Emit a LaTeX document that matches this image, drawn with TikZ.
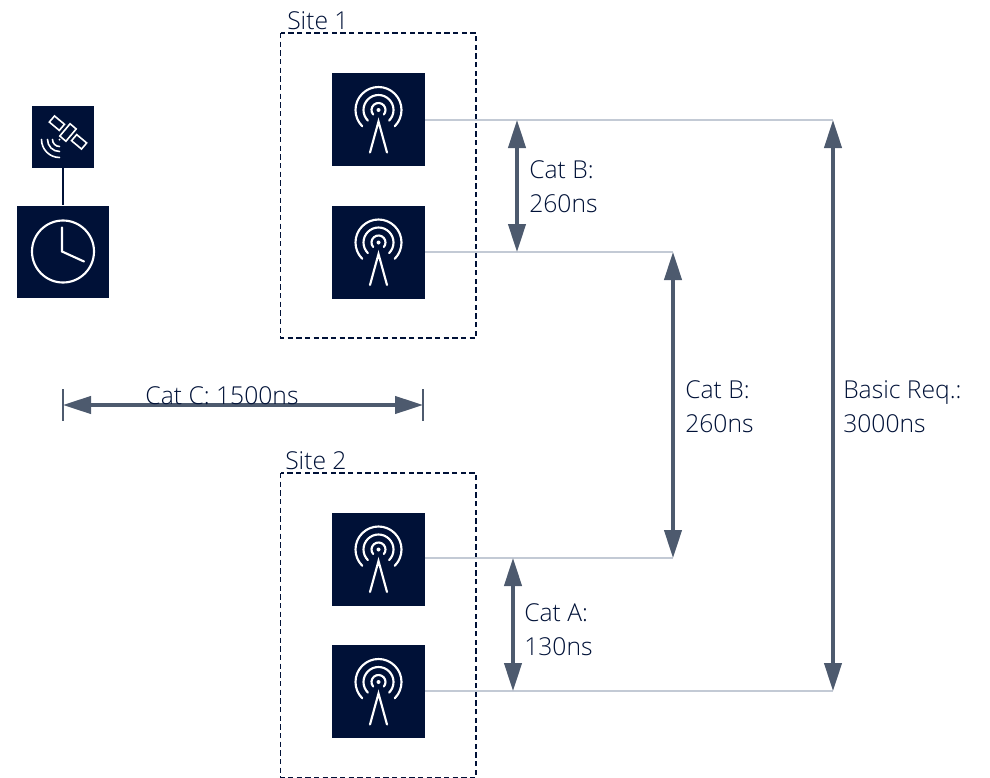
\documentclass[tikz,border=0pt]{standalone}
\usepackage{fontspec}
\setmainfont{Open Sans Light}
\usetikzlibrary{arrows.meta, positioning, calc}
\definecolor{cnavy}{HTML}{001137}
\definecolor{cslate}{HTML}{4D5A6E}
\definecolor{cpale}{HTML}{C3CAD5}
\tikzset{
  every picture/.style={x=0.75pt, y=-0.75pt},
  iconbox/.style={fill=cnavy, draw=none, inner sep=0pt, minimum size=#1*0.75pt},
  iconbox/.default=93,
  glyph/.style={draw=white, line width=1.6pt, line cap=round},
  sitebox/.style={draw=cnavy, line width=1.1pt, dash pattern=on 4pt off 2.5pt},
  guide/.style={draw=cpale, line width=1.1pt},
  dimarrow/.style={{Triangle[length=21pt, width=13pt]}-{Triangle[length=21pt, width=13pt]}, draw=cslate, line width=2.4pt},
  label/.style={font=\fontsize{18.5}{25.5}\selectfont, text=cnavy, align=left, inner sep=0pt},
  antenna/.pic={
    \fill[white] (0,-9.5) circle[radius=2];
    \foreach \r/\a in {7/40, 15/45, 23/45} {
      \draw[glyph] (0,-9.5) ++(180-\a:\r) arc[start angle=180-\a, end angle=360+\a, radius=\r];
    }
    \draw[glyph] (-8.5,33) -- (0,2) -- (8.5,33);
  },
  clockface/.pic={
    \draw[glyph] (0,0) circle[radius=31];
    \draw[glyph] (-1,-24) -- (-1,0) -- (21,10);
  },
  satellite/.pic={
    \begin{scope}[shift={(5,-4)}, rotate=-40]
      \draw[glyph, line width=1.2pt, line join=miter] (-8,-4) rectangle (-21,4);
      \draw[glyph, line width=1.2pt, line join=miter] (-4,-8) rectangle (4,8);
      \draw[glyph, line width=1.2pt, line join=miter] (8,-4) rectangle (21,4);
    \end{scope}
    \fill[white] (-3.5,3) circle[radius=1];
    \foreach \r in {7, 12, 18} {
      \draw[glyph, line width=1.2pt] (-3.5,3) ++(90:\r) arc[start angle=90, end angle=180, radius=\r];
    }
  },
}
\begin{document}
\begin{tikzpicture}
  \useasboundingbox (0,0) rectangle (990,778);
  % sites
  \draw[sitebox] (280.5,33) rectangle (476,338);
  \draw[sitebox] (280.5,473) rectangle (476,777.5);
  \node[label, anchor=west] (site1) at (287,21) {Site 1};
  \node[label, anchor=west] (site2) at (285,461) {Site 2};
  % antennas
  \foreach \n/\y in {1/119.5, 2/252, 3/559, 4/691.5} {
    \node[iconbox] (ant\n) at (378.5,\y) {};
    \pic at (ant\n) {antenna};
  }
  % time source
  \node[iconbox=62] (sat) at (63,136.5) {};
  \pic at (sat) {satellite};
  \node[iconbox=92] (clock) at (63,251.5) {};
  \pic at (clock) {clockface};
  \draw[cnavy, line width=2pt] (sat) -- (clock);
  % guide lines
  \coordinate (far1) at (833,120);
  \coordinate (far4) at (833,691);
  \coordinate (mid2) at (673,252);
  \coordinate (mid3) at (673,558);
  \draw[guide] (ant1.east |- far1) -- (far1);
  \draw[guide] (ant2.east |- mid2) -- (mid2);
  \draw[guide] (ant3.east |- mid3) -- (mid3);
  \draw[guide] (ant4.east |- far4) -- (far4);
  % measures
  \coordinate (catb1) at (517,120);
  \coordinate (catb2) at (517,252);
  \coordinate (cata1) at (513,558);
  \coordinate (cata2) at (513,691);
  \coordinate (catc1) at (63,405);
  \coordinate (catc2) at (423,405);
  \draw[dimarrow] (catb1) -- (catb2);
  \draw[dimarrow] (cata1) -- (cata2);
  \draw[dimarrow] (mid2) -- (mid3);
  \draw[dimarrow] (far1) -- (far4);
  \draw[dimarrow] (catc1) -- (catc2);
  \draw[draw=cslate, line width=1.1pt] ($(catc1)+(0,-16)$) -- ($(catc1)+(0,16)$);
  \draw[draw=cslate, line width=1.1pt] ($(catc2)+(0,-16)$) -- ($(catc2)+(0,16)$);
  % labels
  \node[label, anchor=west] (lab1) at (529,187) {Cat B:\\260ns};
  \node[label, anchor=west] (lab2) at (685,407) {Cat B:\\260ns};
  \node[label, anchor=west] (lab3) at (843,407) {Basic Req.:\\3000ns};
  \node[label, anchor=west] (lab4) at (524,630) {Cat A:\\130ns};
  \node[label] (lab5) at (222,396) {Cat C: 1500ns};
\end{tikzpicture}
\end{document}
